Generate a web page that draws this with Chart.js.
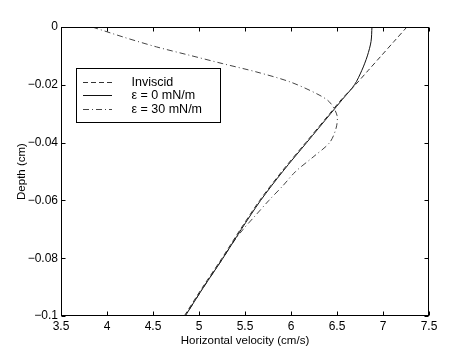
<!DOCTYPE html>
<html><head><meta charset="utf-8">
<script src="https://cdn.jsdelivr.net/npm/chart.js@4.4.1/dist/chart.umd.min.js"></script>
<style>html,body{margin:0;padding:0;background:#fff}#wrap{width:474px;height:355px}</style>
</head><body><div id="wrap"><canvas id="c" width="474" height="355"></canvas></div>
<script>
const seriesLabels = ['Inviscid', 'ε = 0 mN/m', 'ε = 30 mN/m'];

const invDepth = [0, -0.005, -0.01, -0.015, -0.02, -0.025, -0.03, -0.04, -0.05, -0.06, -0.07, -0.08, -0.09, -0.1];
const invVel   = [7.26, 7.12, 6.98, 6.84, 6.70, 6.55, 6.42, 6.16, 5.90, 5.66, 5.45, 5.25, 5.04, 4.84];

const e0Depth = [0, -0.005, -0.01, -0.015, -0.02, -0.025, -0.03, -0.04, -0.05, -0.06, -0.07, -0.08, -0.09, -0.1];
const e0Vel   = [6.88, 6.87, 6.83, 6.77, 6.69, 6.56, 6.43, 6.17, 5.91, 5.67, 5.46, 5.26, 5.05, 4.85];

const e30Depth = [0, -0.0035, -0.0069, -0.0098, -0.0127, -0.0156, -0.019, -0.0231, -0.026, -0.0306, -0.035, -0.04, -0.045, -0.05, -0.055, -0.06, -0.065, -0.07, -0.075, -0.08, -0.09, -0.1];
const e30Vel   = [3.84, 4.18, 4.54, 4.90, 5.26, 5.63, 5.99, 6.28, 6.42, 6.50, 6.49, 6.42, 6.24, 6.05, 5.91, 5.76, 5.62, 5.48, 5.36, 5.26, 5.05, 4.85];

const xTicks = [3.5, 4, 4.5, 5, 5.5, 6, 6.5, 7, 7.5];
const xTickLabels = ['3.5', '4', '4.5', '5', '5.5', '6', '6.5', '7', '7.5'];
const yTicks = [-0.1, -0.08, -0.06, -0.04, -0.02, 0];
const yTickLabels = ['\u22120.1', '\u22120.08', '\u22120.06', '\u22120.04', '\u22120.02', '0'];

const xTitle = 'Horizontal velocity (cm/s)';
const yTitle = 'Depth (cm)';

const FONT = "'Liberation Sans', Arial, Helvetica, sans-serif";

function pts(vel, dep) { return vel.map((v, i) => ({ x: v, y: dep[i] })); }

const framePlugin = {
  id: 'frame',
  afterDraw(chart) {
    const { ctx, chartArea: { left, right, top, bottom }, scales: { x, y } } = chart;
    ctx.save();
    ctx.strokeStyle = '#000';
    ctx.lineWidth = 1;
    ctx.setLineDash([]);
    const L = Math.round(left) + 0.5, R = Math.round(right) - 0.5;
    const T = Math.round(top) + 0.5, B = Math.round(bottom) - 0.5;
    ctx.strokeRect(L, T, R - L, B - T);
    ctx.beginPath();
    xTicks.forEach(v => {
      const px = Math.round(x.getPixelForValue(v)) + 0.5;
      ctx.moveTo(px, B); ctx.lineTo(px, B - 4);
      ctx.moveTo(px, T); ctx.lineTo(px, T + 4);
    });
    yTicks.forEach(v => {
      const py = Math.round(y.getPixelForValue(v)) + 0.5;
      ctx.moveTo(L, py); ctx.lineTo(L + 4, py);
      ctx.moveTo(R, py); ctx.lineTo(R - 4, py);
    });
    ctx.stroke();

    // legend
    const bx = 76.5, by = 68.5, bw = 144, bh = 54;
    ctx.fillStyle = '#fff';
    ctx.fillRect(bx, by, bw, bh);
    ctx.strokeStyle = '#000';
    ctx.strokeRect(bx, by, bw, bh);
    ctx.font = '12.5px ' + FONT;
    ctx.textBaseline = 'middle';
    ctx.textAlign = 'left';
    chart.data.datasets.forEach((ds, i) => {
      const ly = Math.round(82 + 13.3 * i) + 0.5;
      ctx.strokeStyle = ds.borderColor;
      ctx.lineWidth = ds.borderWidth;
      ctx.setLineDash(ds.borderDash || []);
      ctx.beginPath();
      ctx.moveTo(83, ly); ctx.lineTo(112, ly);
      ctx.stroke();
      ctx.setLineDash([]);
      ctx.fillStyle = '#000';
      ctx.fillText(ds.label, 131.5, ly);
    });
    ctx.restore();
  }
};

new Chart(document.getElementById('c'), {
  type: 'scatter',
  data: {
    datasets: [
      { label: seriesLabels[0], data: pts(invVel, invDepth), showLine: true, borderColor: '#333', borderWidth: 1, borderDash: [5, 3], pointRadius: 0, tension: 0.3, fill: false },
      { label: seriesLabels[1], data: pts(e0Vel, e0Depth), showLine: true, borderColor: '#111', borderWidth: 1, pointRadius: 0, tension: 0.3, fill: false },
      { label: seriesLabels[2], data: pts(e30Vel, e30Depth), showLine: true, borderColor: '#444', borderWidth: 1, borderDash: [6, 3, 1, 3], pointRadius: 0, tension: 0.3, fill: false }
    ]
  },
  options: {
    responsive: false,
    animation: false,
    devicePixelRatio: 1,
    layout: { padding: { top: 27, right: 45, left: 0, bottom: 0 } },
    plugins: { legend: { display: false }, tooltip: { enabled: false } },
    scales: {
      x: {
        type: 'linear', position: 'bottom', min: 3.5, max: 7.5,
        afterBuildTicks: s => { s.ticks = xTicks.map(v => ({ value: v })); },
        afterFit: s => { s.height = 39; },
        grid: { display: false, drawTicks: false, tickLength: 0 }, border: { display: false },
        ticks: { autoSkip: false, maxRotation: 0, padding: 3, color: '#000', font: { family: FONT, size: 12 },
          callback: v => { const i = xTicks.findIndex(t => Math.abs(t - v) < 1e-9); return i >= 0 ? xTickLabels[i] : ''; } },
        title: { display: true, text: xTitle, color: '#000', font: { family: FONT, size: 11.5 }, padding: { top: 0, bottom: 7 } }
      },
      y: {
        type: 'linear', position: 'left', min: -0.1, max: 0,
        afterBuildTicks: s => { s.ticks = yTicks.map(v => ({ value: v })); },
        afterFit: s => { s.width = 61; },
        grid: { display: false, drawTicks: false, tickLength: 0 }, border: { display: false },
        ticks: { autoSkip: false, padding: 3, color: '#000', font: { family: FONT, size: 12 },
          callback: v => { const i = yTicks.findIndex(t => Math.abs(t - v) < 1e-9); return i >= 0 ? yTickLabels[i] : ''; } },
        title: { display: true, text: yTitle, color: '#000', font: { family: FONT, size: 11.5 }, padding: { top: 15, bottom: 0 } }
      }
    }
  },
  plugins: [framePlugin]
});
</script>
</body></html>
